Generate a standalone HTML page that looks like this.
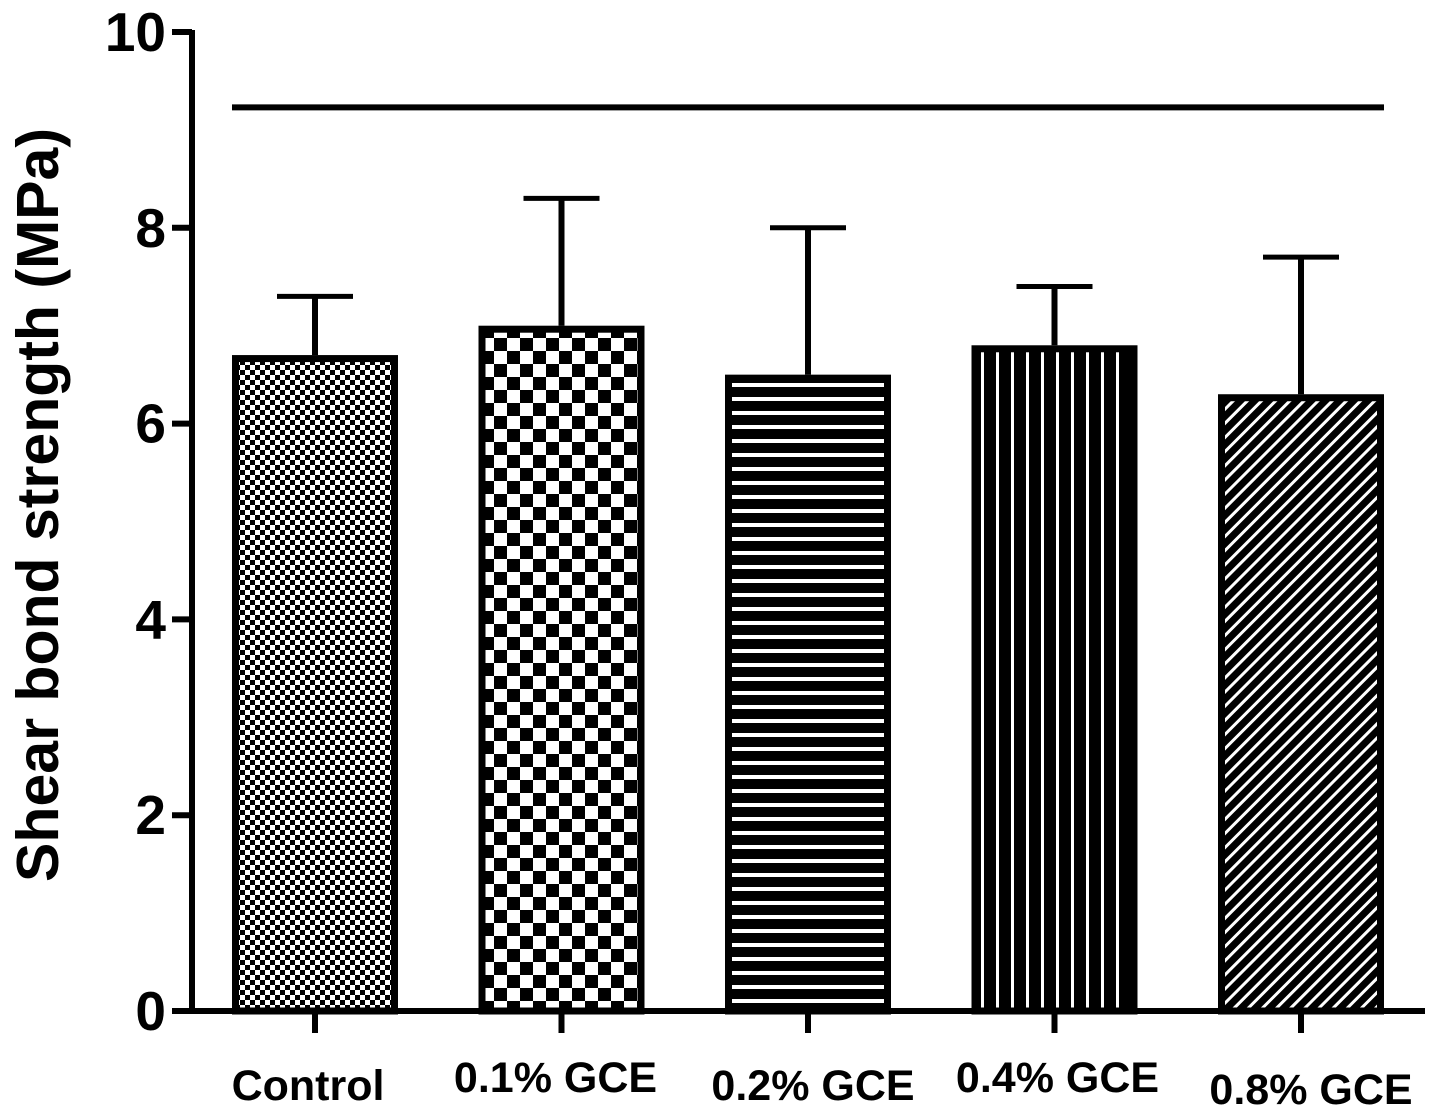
<!DOCTYPE html>
<html><head><meta charset="utf-8"><style>
html,body{margin:0;padding:0;background:#fff;}
svg{display:block;}
text{font-family:"Liberation Sans",Arial,sans-serif;font-weight:bold;fill:#000;}
</style></head><body>
<svg id="chart" width="1441" height="1116">
<defs>
<pattern id="p0" width="10" height="10" patternUnits="userSpaceOnUse"><rect width="10" height="10" fill="#fff"/><rect width="5" height="5" fill="#000"/><rect x="5" y="5" width="5" height="5" fill="#000"/></pattern>
<pattern id="p1" width="26" height="26" patternUnits="userSpaceOnUse"><rect width="26" height="26" fill="#fff"/><rect width="13" height="13" fill="#000"/><rect x="13" y="13" width="13" height="13" fill="#000"/></pattern>
<pattern id="p2" width="14" height="14" patternUnits="userSpaceOnUse"><rect width="14" height="14" fill="#000"/><rect y="5" width="14" height="4" fill="#fff"/></pattern>
<pattern id="p3" width="15" height="15" patternUnits="userSpaceOnUse"><rect width="15" height="15" fill="#000"/><rect x="6" width="3" height="15" fill="#fff"/></pattern>
<pattern id="p4" width="10" height="10" patternUnits="userSpaceOnUse" patternTransform="rotate(45)"><rect width="10" height="10" fill="#000"/><rect x="4" width="3" height="10" fill="#fff"/></pattern>
</defs>
<g id="axes"></g>
<g id="bars"></g>
</svg>
<script>
const categories = ["Control","0.1% GCE","0.2% GCE","0.4% GCE","0.8% GCE"];
const means = [6.7, 7.0, 6.5, 6.8, 6.3];
const errors = [0.6, 1.3, 1.5, 0.6, 1.4];
const yTicks = [0, 2, 4, 6, 8, 10];
const refLine = 9.23;

const NS = "http://www.w3.org/2000/svg";
const y0 = 1011, pxPerUnit = 97.9;
const yScale = v => y0 - v * pxPerUnit;
const xStart = 232, step = 246.5, barW = 166;
const xScale = i => xStart + i * step;
const labelDx = [-7, -6, 5, 3, 10];
const labelDy = [0, -8, 0, -8, 4];

function mk(tag, attrs, parent){
  const e = document.createElementNS(NS, tag);
  for (const k in attrs) e.setAttribute(k, attrs[k]);
  parent.appendChild(e); return e;
}
const axes = document.getElementById('axes');
const bars = document.getElementById('bars');

let yAxis = mk('line',{x1:192,y1:yScale(10)-2,x2:192,y2:y0+3,stroke:'#000','stroke-width':6},axes);


let xAxis = mk('line',{x1:172,y1:y0,x2:1425,y2:y0,stroke:'#000','stroke-width':6},axes);



yTicks.forEach(t=>{
  const y = yScale(t);
  const tk = mk('line',{x1:172,y1:y,x2:192,y2:y,stroke:'#000','stroke-width':6},axes);
  
  
  const lb = mk('text',{x:166,y:y+19,'text-anchor':'end','font-size':55},axes);
  lb.textContent = t;
  
  
});

const yt = mk('text',{x:0,y:0,'text-anchor':'middle','font-size':59,transform:'translate(58,505) rotate(-90)'},axes);
yt.textContent = 'Shear bond strength (MPa)';



categories.forEach((c,i)=>{
  const x = xScale(i), cx = x + barW/2;
  const top = yScale(means[i]);
  const eTop = yScale(means[i] + errors[i]);
  const eb = mk('line',{x1:cx,y1:eTop,x2:cx,y2:top,stroke:'#000','stroke-width':6},bars);
  
  
  const cap = mk('line',{x1:cx-38,y1:eTop,x2:cx+38,y2:eTop,stroke:'#000','stroke-width':5},bars);
  
  
  const r = mk('rect',{x:x+3.5,y:top+3.5,width:barW-7,height:y0-top-3.5,fill:'url(#p'+i+')',stroke:'#000','stroke-width':7},bars);
  
  
  const tk = mk('line',{x1:cx,y1:y0,x2:cx,y2:y0+22,stroke:'#000','stroke-width':6},bars);
  
  
  const lb = mk('text',{x:cx+labelDx[i],y:1100+labelDy[i],'text-anchor':'middle','font-size':43},bars);
  lb.textContent = c;
  
  
});

const rl = mk('line',{x1:xScale(0),y1:yScale(refLine),x2:xScale(4)+barW,y2:yScale(refLine),stroke:'#000','stroke-width':6},bars);


</script>
</body></html>
